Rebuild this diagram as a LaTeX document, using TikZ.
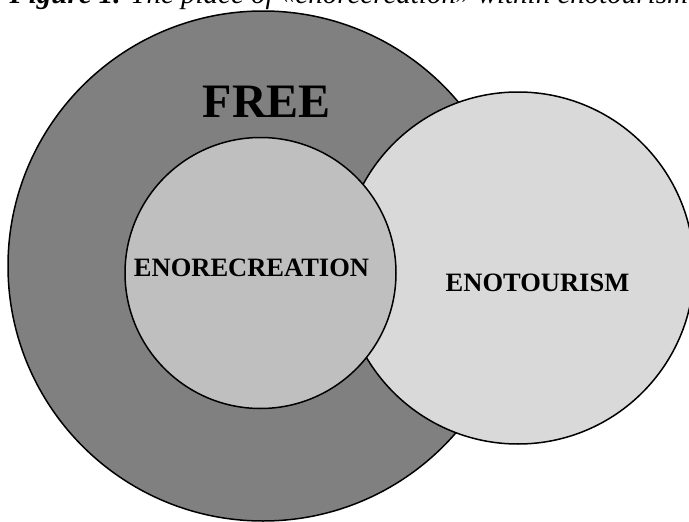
\documentclass[tikz,border=0pt]{standalone}
\usepackage{fontspec}
\setmainfont{Liberation Serif}
\usetikzlibrary{positioning,shapes}

\begin{document}
\begin{tikzpicture}[x=1pt,y=-1pt,
		zone/.style={circle,draw=black,line width=1.5pt,inner sep=0pt},
		zonetext/.style={font=\bfseries\fontsize{26.5}{30}\selectfont,anchor=base}]
		\useasboundingbox (0,0) rectangle (689,522);
		\node[anchor=base west,font=\itshape\fontsize{29}{34}\selectfont] (title) at (6,4) {\textbf{Figure 1.} The place of «enorecreation» within enotourism};

		\node[zone,fill=black!50,minimum size=510pt] (free) at (263,266) {};
		\node[zone,fill=black!15,minimum size=352pt] (tourism) at (518,268) {};
		\node[zone,fill=black!25,minimum size=271pt] (recreation) at (260.5,273) {};

		\node[font=\bfseries\fontsize{48}{54}\selectfont,anchor=base] (freetext) at (267,117) {FREE};
		\node[zonetext] (recreationtext) at (251.5,276) {ENORECREATION};
		\node[zonetext] (tourismtext) at (537.5,291) {ENOTOURISM};
	\end{tikzpicture}
\end{document}
